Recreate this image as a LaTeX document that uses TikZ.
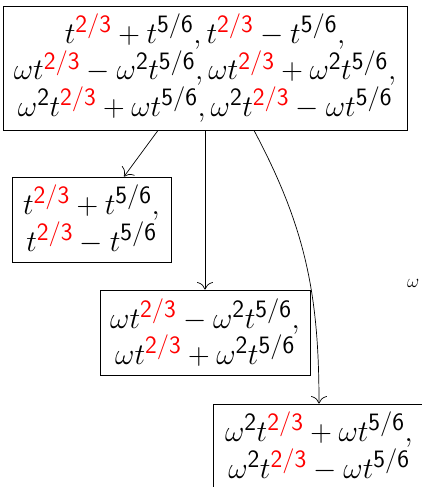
\RequirePackage{fix-cm}
\documentclass[tikz,border=0pt]{standalone}
\usetikzlibrary{calc,arrows.meta}
\DeclareMathSizes{30}{30}{25}{17}
\newcommand{\ra}{{\color{red}\mathsf{2/3}}}
\newcommand{\rb}{\mathsf{5/6}}
\newcommand{\sq}{\mathsf{2}}
\newcommand{\bigfont}{\fontsize{30}{34.5}\selectfont}
\tikzset{
  box/.style={draw, line width=0.8pt, align=center, inner sep=2pt, font=\bigfont},
  arr/.style={line width=0.7pt, -{To[scale=2.4]}},
}
\begin{document}
\begin{tikzpicture}[x=1pt,y=-1pt]
\useasboundingbox (0,0) rectangle (422,487);
\clip (0,0) rectangle (422,487);
\node[box, minimum width=404pt, minimum height=124pt] (top) at (205,68)
  {$t^{\ra}+t^{\rb}, t^{\ra}-t^{\rb},$\\
   $\omega t^{\ra}-\omega^{\sq}t^{\rb}, \omega t^{\ra}+\omega^{\sq}t^{\rb},$\\
   $\omega^{\sq}t^{\ra}+\omega t^{\rb}, \omega^{\sq}t^{\ra}-\omega t^{\rb}$};
\node[box, minimum width=159pt, minimum height=85pt] (A) at (91.5,219.5)
  {$t^{\ra}+t^{\rb},$\\ $t^{\ra}-t^{\rb}$};
\node[box, minimum width=210pt, minimum height=85pt] (B) at (205,332.5)
  {$\omega t^{\ra}-\omega^{\sq}t^{\rb},$\\ $\omega t^{\ra}+\omega^{\sq}t^{\rb}$};
\node[box, minimum width=212pt, minimum height=85pt] (C) at (319,446.5)
  {$\omega^{\sq}t^{\ra}+\omega t^{\rb},$\\ $\omega^{\sq}t^{\ra}-\omega t^{\rb}$};
\node[anchor=base west, inner sep=0pt] (W) at (407,287) {\scalebox{0.63}{\bigfont$\omega$}};
\draw[arr] ([xshift=-47pt]top.south) -- ([xshift=32.5pt]A.north);
\draw[arr] (top.south) -- (B.north);
\draw[arr] ([xshift=49pt]top.south) to[out=-62,in=90] (C.north);
\end{tikzpicture}
\end{document}
